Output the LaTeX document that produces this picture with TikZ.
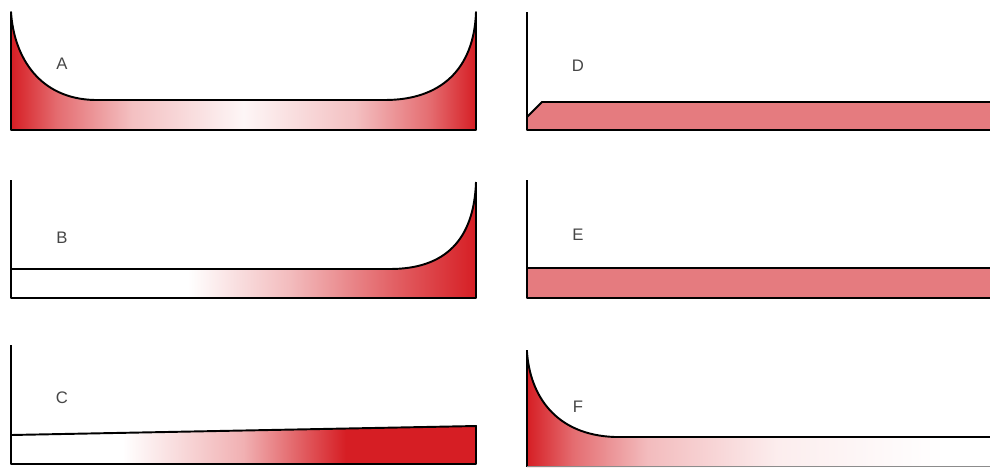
\documentclass[tikz,border=0pt]{standalone}
\usepackage{fontspec}
\setmainfont{Liberation Sans}

\definecolor{wallred}{RGB}{214,30,36}
\definecolor{bandpink}{RGB}{229,123,127}
\definecolor{labgray}{RGB}{70,70,70}

% horizontal shadings, central 25bp..75bp fills the path
\pgfdeclarehorizontalshading{shadeA}{100bp}{color(0bp)=(wallred); color(25bp)=(wallred);
  color(30bp)=(wallred!65!white); color(38bp)=(wallred!28!white); color(50bp)=(wallred!4!white);
  color(62bp)=(wallred!28!white); color(70bp)=(wallred!65!white); color(75bp)=(wallred); color(100bp)=(wallred)}
\pgfdeclarehorizontalshading{shadeB}{100bp}{color(0bp)=(white); color(25bp)=(white);
  color(44bp)=(white); color(55bp)=(wallred!30!white); color(66bp)=(wallred!70!white);
  color(75bp)=(wallred); color(100bp)=(wallred)}
\pgfdeclarehorizontalshading{shadeC}{100bp}{color(0bp)=(white); color(25bp)=(white);
  color(37bp)=(white); color(50bp)=(wallred!35!white); color(61bp)=(wallred);
  color(75bp)=(wallred); color(100bp)=(wallred)}
\pgfdeclarehorizontalshading{shadeF}{100bp}{color(0bp)=(wallred); color(25bp)=(wallred);
  color(30bp)=(wallred!65!white); color(38bp)=(wallred!30!white); color(52bp)=(wallred!8!white);
  color(70bp)=(white); color(100bp)=(white)}

\tikzset{
  wall/.style={line width=1.1pt, black, line join=round},
  panellabel/.style={font=\fontsize{9.5}{11}\selectfont, text=labgray, inner sep=0pt}
}

\begin{document}
\begin{tikzpicture}[x=0.02cm,y=-0.02cm]
\useasboundingbox (0,0) rectangle (990,467);

% A
\shadedraw[wall, shading=shadeA] (11,12) .. controls (14,58) and (40,99) .. (95,100)
  -- (385,100) .. controls (440,100) and (474,70) .. (476,12)
  -- (476,130) -- (11,130) -- cycle;
\node[panellabel] (labA) at (62,64) {A};

% B
\shade[shading=shadeB] (11,269) -- (390,269) .. controls (445,269) and (474,240) .. (476,182)
  -- (476,298) -- (11,298) -- cycle;
\draw[wall] (11,180) -- (11,298) -- (476,298) -- (476,182);
\draw[wall] (11,269) -- (390,269) .. controls (445,269) and (474,240) .. (476,182);
\node[panellabel] (labB) at (62,238) {B};

% C
\shade[shading=shadeC] (11,435) -- (476,426) -- (476,464) -- (11,464) -- cycle;
\draw[wall] (11,345) -- (11,464) -- (476,464) -- (476,426) -- (11,435);
\node[panellabel] (labC) at (62,398) {C};

% D
\fill[bandpink] (527,117) -- (542,102) -- (990,102) -- (990,130) -- (527,130) -- cycle;
\draw[wall] (527,12) -- (527,130) -- (990,130);
\draw[wall] (527,117) -- (542,102) -- (990,102);
\node[panellabel] (labD) at (578,66) {D};

% E
\fill[bandpink] (527,268) rectangle (990,298);
\draw[wall] (527,180) -- (527,298) -- (990,298);
\draw[wall] (527,268) -- (990,268);
\node[panellabel] (labE) at (578,235) {E};

% F
\shade[shading=shadeF] (527,352) .. controls (530,395) and (555,435) .. (615,437)
  -- (990,437) -- (990,467) -- (527,467) -- cycle;
\draw[wall] (527,350) -- (527,467);
\draw[line width=0.5pt, black!45] (527,466.5) -- (990,466.5);
\draw[wall] (527,352) .. controls (530,395) and (555,435) .. (615,437) -- (990,437);
\node[panellabel] (labF) at (578,407) {F};
\end{tikzpicture}
\end{document}
